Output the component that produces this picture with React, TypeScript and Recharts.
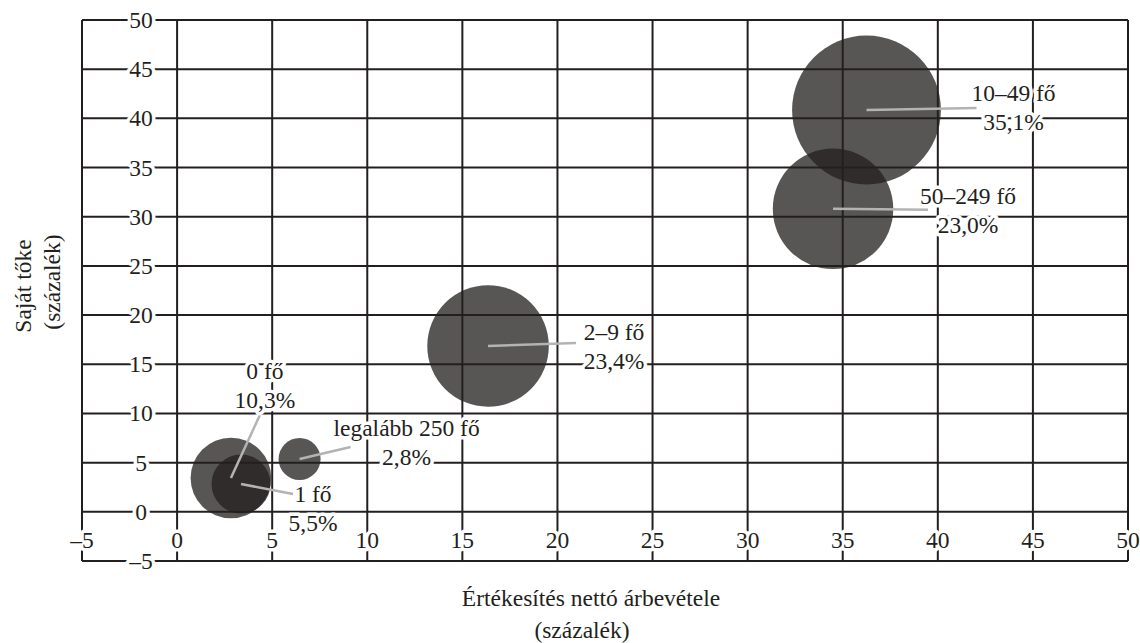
import { ScatterChart, Scatter, XAxis, YAxis, ZAxis, CartesianGrid } from 'recharts';

const groups = ['0 fő', '1 fő', 'legalább 250 fő', '2–9 fő', '50–249 fő', '10–49 fő'];
const revenue = [2.83, 3.36, 6.44, 16.35, 34.49, 36.25];
const equity = [3.44, 2.83, 5.37, 16.86, 30.8, 40.85];
const shares = [10.3, 5.5, 2.8, 23.4, 23.0, 35.1];
const shareLabels = ['10,3%', '5,5%', '2,8%', '23,4%', '23,0%', '35,1%'];
const axisTicks = [-5, 0, 5, 10, 15, 20, 25, 30, 35, 40, 45, 50];

const W = 1140;
const H = 643;
const PLOT = { left: 82, top: 20, right: 1128, bottom: 561 };
const X_AXIS_H = 30;
const Y_AXIS_W = 40;
const INK = '#231f20';
const FONT = "'Liberation Serif', 'DejaVu Serif', serif";
const FS = 23.5;

// where each bubble's label sits, in px from the bubble centre
const labelLayout: Record<string, { tx: number; ty: number; lx: number; ly: number }> = {
  '0 fő': { tx: 34, ty: -92, lx: 29, ly: -63 },
  '1 fő': { tx: 72, ty: 25, lx: 52, ly: 10 },
  'legalább 250 fő': { tx: 107, ty: -16.5, lx: 51, ly: -12 },
  '2–9 fő': { tx: 126, ty: 0.5, lx: 88, ly: -3 },
  '50–249 fő': { tx: 135, ty: 2, lx: 95, ly: 1 },
  '10–49 fő': { tx: 147, ty: -3, lx: 110, ly: -2 },
};

const data = groups.map((g, i) => ({
  name: g,
  x: revenue[i],
  y: equity[i],
  share: shares[i],
  pct: shareLabels[i],
}));

const fmt = (v: number) => (v < 0 ? '–' + Math.abs(v) : String(v));

const Halo = ({ x, y, children }: { x: number; y: number; children: any }) => (
  <text
    x={x}
    y={y}
    textAnchor="middle"
    dominantBaseline="central"
    fontFamily={FONT}
    fontSize={FS}
    fill={INK}
    stroke="#fff"
    strokeWidth={7}
    strokeLinejoin="round"
    paintOrder="stroke"
  >
    {children}
  </text>
);

const Title = ({ x, y, rotate, children }: { x: number; y: number; rotate?: boolean; children: any }) => (
  <text
    x={x}
    y={y}
    textAnchor="middle"
    dominantBaseline="central"
    fontFamily={FONT}
    fontSize={FS}
    fill={INK}
    transform={rotate ? `rotate(-90 ${x} ${y})` : undefined}
  >
    {children}
  </text>
);

const XTick = (props: any) => <Halo x={props.x} y={PLOT.bottom - 21}>{fmt(props.payload.value)}</Halo>;

const YTick = (props: any) => <Halo x={PLOT.left + 59} y={props.y}>{fmt(props.payload.value)}</Halo>;

const Bubble = (props: any) => {
  const r = Math.sqrt(Math.max(props.size || 0, 0) / Math.PI);
  return <circle cx={props.cx} cy={props.cy} r={r} fill={INK} fillOpacity={0.76} />;
};

const BubbleLabel = (props: any) => {
  const p = props.payload;
  const l = labelLayout[p.name];
  const { cx, cy } = props;
  return (
    <g>
      <line x1={cx} y1={cy} x2={cx + l.lx} y2={cy + l.ly} stroke="#b3b3b3" strokeWidth={2.5} />
      <Halo x={cx + l.tx} y={cy + l.ty - 14.5}>{p.name}</Halo>
      <Halo x={cx + l.tx} y={cy + l.ty + 14.5}>{p.pct}</Halo>
    </g>
  );
};

export default function App() {
  return (
    <div style={{ position: 'absolute', left: 0, top: 0, width: W, height: H, background: '#fff' }}>
      <ScatterChart
        width={W}
        height={H}
        margin={{
          top: PLOT.top,
          right: W - PLOT.right,
          bottom: H - PLOT.bottom - X_AXIS_H,
          left: PLOT.left - Y_AXIS_W,
        }}
      >
        <CartesianGrid stroke={INK} strokeWidth={2} />
        <XAxis
          type="number"
          dataKey="x"
          domain={[-5, 50]}
          ticks={axisTicks}
          interval={0}
          allowDataOverflow
          height={X_AXIS_H}
          axisLine={false}
          tickLine={false}
          tick={XTick}
        />
        <YAxis
          type="number"
          dataKey="y"
          domain={[-5, 50]}
          ticks={axisTicks}
          interval={0}
          allowDataOverflow
          width={Y_AXIS_W}
          axisLine={false}
          tickLine={false}
          tick={YTick}
        />
        <ZAxis type="number" dataKey="share" domain={[0, 40]} range={[0, 19825]} />
        <Scatter data={data} shape={<Bubble />} isAnimationActive={false} />
        <Scatter data={data} shape={<BubbleLabel />} isAnimationActive={false} />
        <g>
          <Title x={591} y={598}>Értékesítés nettó árbevétele</Title>
          <Title x={582} y={630}>(százalék)</Title>
          <Title x={23} y={286} rotate>Saját tőke</Title>
          <Title x={52} y={282} rotate>(százalék)</Title>
        </g>
      </ScatterChart>
    </div>
  );
}
